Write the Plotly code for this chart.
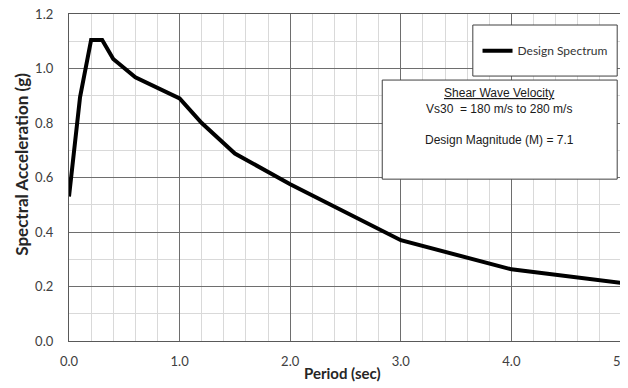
import plotly.graph_objects as go

# Data
period = [0.0, 0.1, 0.2, 0.3, 0.4, 0.6, 1.0, 1.2, 1.5, 2.0, 3.0, 4.0, 5.0]
sa = [0.53, 0.895, 1.105, 1.105, 1.035, 0.968, 0.89, 0.80, 0.688, 0.575, 0.37, 0.263, 0.213]
series_name = "Design Spectrum"
x_ticks = [0, 1, 2, 3, 4, 5]
y_ticks = [0.0, 0.2, 0.4, 0.6, 0.8, 1.0, 1.2]

# The page body has an 8px default margin, so the figure is offset by 8px.
OFF = 8
W, H = 628 - OFF, 388 - OFF
# plot-area edges in reference-screen pixels
L, R, T, B = 69.4, 622.5, 14, 340.7


def px(xp):
    return (xp - L) / (R - L)


def py(yp):
    return (B - yp) / (B - T)


fig = go.Figure()
fig.add_trace(go.Scatter(x=period, y=sa, mode="lines", name=series_name,
                         line=dict(color="black", width=4)))

axis_common = dict(
    showline=True, linecolor="#595959", linewidth=1.3, mirror=True,
    showgrid=True, gridcolor="#6e6e6e", gridwidth=1,
    ticks="", zeroline=False, tickformat=".1f", automargin=False,
    ticklabeloverflow="allow",
    tickfont=dict(family="Lato", size=13, color="#404040"),
)

fig.update_layout(
    width=W, height=H,
    margin=dict(l=L - OFF, r=W - (R - OFF), t=T - OFF, b=H - (B - OFF)),
    paper_bgcolor="white", plot_bgcolor="white",
    showlegend=True,
    legend=dict(x=px(478), y=py(50.7), xanchor="left", yanchor="middle",
                bgcolor="rgba(0,0,0,0)", borderwidth=0,
                font=dict(family="Lato", size=12, color="#333333")),
    xaxis=dict(range=[0, 5], tickvals=x_ticks,
               minor=dict(dtick=0.2, showgrid=True, gridcolor="#d9d9d9", gridwidth=1),
               ticklabelstandoff=8,
               **axis_common),
    yaxis=dict(range=[0, 1.2], tickvals=y_ticks,
               minor=dict(dtick=0.1, showgrid=True, gridcolor="#d9d9d9", gridwidth=1),
               ticklabelstandoff=12,
               **axis_common),
)

# Axis titles
fig.add_annotation(xref="paper", yref="paper", x=px(343), y=py(373),
                   xanchor="center", yanchor="middle", showarrow=False,
                   text="<b>Period (sec)</b>",
                   font=dict(family="Lato", size=15, color="#262626"))
fig.add_annotation(xref="paper", yref="paper", x=px(22), y=py(164),
                   xanchor="center", yanchor="middle", showarrow=False, textangle=-90,
                   text="<b>Spectral Acceleration (g)</b>",
                   font=dict(family="Lato", size=17, color="#262626"))

# Legend box
fig.add_shape(type="rect", xref="paper", yref="paper",
              x0=px(473.3), x1=px(617.7), y0=py(76), y1=py(25),
              line=dict(color="#404040", width=1), fillcolor="white", layer="above")
# Info text box
fig.add_shape(type="rect", xref="paper", yref="paper",
              x0=px(382.7), x1=px(617.7), y0=py(179), y1=py(80),
              line=dict(color="#404040", width=1), fillcolor="white", layer="above")
fig.add_annotation(xref="paper", yref="paper", x=px(500), y=py(84),
                   xanchor="center", yanchor="top", align="center", showarrow=False,
                   text="<u>Shear Wave Velocity</u><br>Vs30 \u00a0= 180 m/s to 280 m/s<br> <br>Design Magnitude (M) = 7.1",
                   font=dict(family="Liberation Sans", size=12, color="#1a1a1a"))

fig.write_html("out.html")
